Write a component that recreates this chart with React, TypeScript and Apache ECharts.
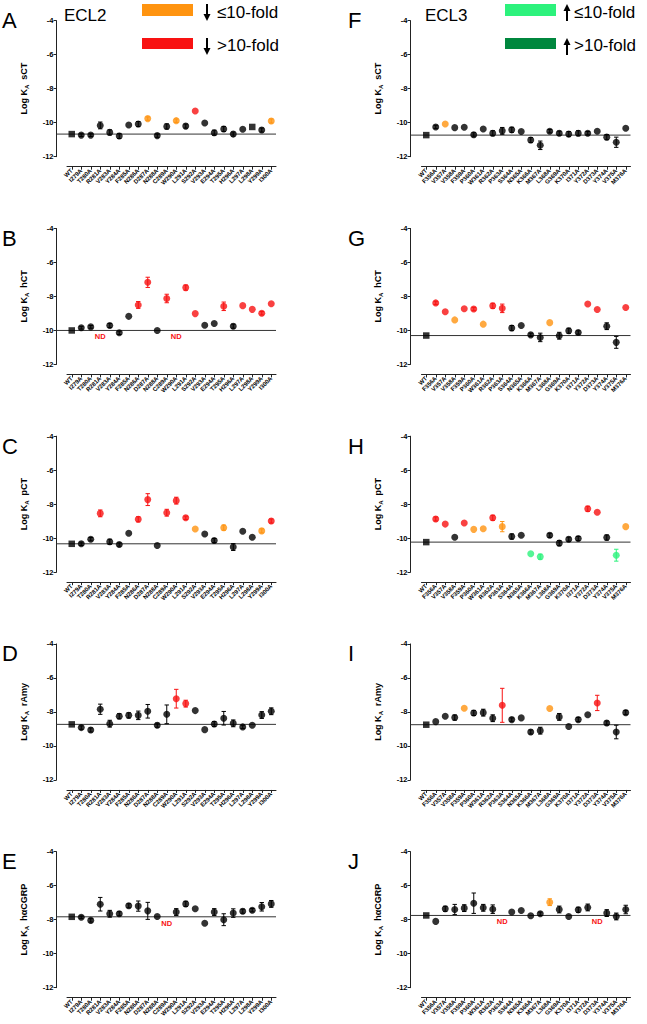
import React, { useEffect, useRef } from "react";
import * as echarts from "echarts";

const ecl2Cats = ["WT","I279A","T280A","R281A","V283A","Y284A","F285A","N286A","D287A","N288A","C289A","W290A","L291A","S292A","V293A","E294A","T295A","H296A","L297A","L298A","Y299A","I300A"];
const ecl3Cats = ["WT","F356A","V357A","V358A","F359A","P360A","W361A","R362A","P363A","S364A","N365A","K366A","M367A","L368A","G369A","K370A","I371A","Y372A","D373A","Y374A","V375A","M376A"];
const yTickMin = -12;
const yTickMax = -4;
const yTickStep = 2;

// ECL2 panels
const aVals = [-10.67,-10.73,-10.73,-10.16,-10.57,-10.78,-10.14,-10.08,-9.76,-10.76,-10.22,-9.88,-10.2,-9.31,-10.02,-10.59,-10.37,-10.67,-10.39,-10.25,-10.43,-9.9];
const aErrs = [0,0.08,0.08,0.2,0.15,0.15,0,0.15,0.1,0.1,0.15,0.1,0.12,0,0,0.15,0.15,0.12,0,0,0.12,0.12];
const aCols = "kkkkkkkkokkokrkkkkkkko";
const bVals = [-10.0,-9.84,-9.79,null,-9.71,-10.14,-9.17,-8.5,-7.17,-10.0,-8.12,null,-7.48,-9.01,-9.69,-9.59,-8.58,-9.75,-8.54,-8.76,-8.99,-8.43];
const bErrs = [0,0.08,0.08,0,0.12,0.1,0,0.2,0.3,0,0.25,0,0.15,0,0,0,0.25,0.12,0,0,0.1,0];
const bCols = "kkkkkkkrrkrkrrkkrkrrrr";
const cVals = [-10.33,-10.33,-10.06,-8.54,-10.21,-10.37,-9.71,-8.89,-7.73,-10.43,-8.5,-7.79,-8.8,-9.46,-9.75,-10.14,-9.38,-10.52,-9.59,-9.94,-9.57,-8.99];
const cErrs = [0,0.1,0.1,0.2,0.15,0.1,0,0.15,0.35,0,0.2,0.2,0.1,0,0,0.12,0.15,0.2,0,0,0.12,0.12];
const cCols = "kkkrkkkrrkrrrokkokkkor";
const dVals = [-8.73,-8.92,-9.06,-7.84,-8.69,-8.25,-8.2,-8.2,-7.96,-8.78,-8.14,-7.22,-7.51,-7.92,-9.04,-8.71,-8.37,-8.67,-8.88,-8.78,-8.18,-7.96];
const dErrs = [0,0.1,0.12,0.3,0.2,0.15,0.15,0.25,0.4,0.12,0.55,0.55,0.2,0,0,0.15,0.4,0.2,0.1,0,0.2,0.2];
const dCols = "kkkkkkkkkkkrrkkkkkkkkk";
const eVals = [-7.83,-7.86,-8.04,-7.09,-7.65,-7.65,-7.18,-7.2,-7.48,-7.81,null,-7.55,-7.07,-7.36,-8.21,-7.55,-8.0,-7.61,-7.5,-7.44,-7.24,-7.07];
const eErrs = [0,0.08,0.1,0.4,0.2,0.12,0.12,0.3,0.5,0,0,0.2,0.15,0,0,0.2,0.35,0.25,0.12,0.1,0.25,0.2];
const eCols = "kkkkkkkkkkkkkkkkkkkkkk";

// ECL3 panels
const fVals = [-10.73,-10.25,-10.08,-10.29,-10.27,-10.71,-10.37,-10.62,-10.48,-10.42,-10.52,-11.02,-11.33,-10.5,-10.62,-10.67,-10.62,-10.62,-10.5,-10.85,-11.15,-10.33];
const fErrs = [0,0.1,0,0,0,0.12,0,0.15,0.2,0.15,0,0.15,0.25,0.1,0.12,0.15,0.15,0.1,0,0.15,0.3,0];
const fCols = "kkokkkkkkkkkkkkkkkkkkk";
const gVals = [-10.3,-8.38,-8.9,-9.38,-8.72,-8.74,-9.63,-8.55,-8.7,-9.86,-9.71,-10.26,-10.41,-9.54,-10.31,-10.02,-10.12,-8.44,-8.77,-9.75,-10.7,-8.65];
const gErrs = [0,0.1,0,0,0,0.1,0,0.15,0.25,0.15,0,0.1,0.25,0,0.2,0.15,0.1,0,0,0.2,0.35,0];
const gCols = "krrorrorrkkkkokkkrrkkr";
const hVals = [-10.23,-8.87,-9.17,-9.94,-9.11,-9.48,-9.44,-8.8,-9.32,-9.9,-9.83,-10.91,-11.09,-9.83,-10.29,-10.06,-10.02,-8.27,-8.47,-9.96,-11.0,-9.32];
const hErrs = [0,0.12,0,0,0,0,0,0.15,0.3,0.15,0,0,0.15,0.12,0.15,0.12,0.12,0.15,0,0.15,0.35,0];
const hCols = "krrkroorokkggkkkkrrkgo";
const iVals = [-8.75,-8.57,-8.25,-8.33,-7.78,-8.06,-8.04,-8.37,-7.61,-8.45,-8.35,-9.18,-9.1,-7.8,-8.29,-8.86,-8.45,-8.16,-7.47,-8.65,-9.18,-8.04];
const iErrs = [0,0,0,0.15,0,0.15,0.2,0.2,1.0,0.1,0,0.12,0.2,0,0.2,0,0.12,0,0.45,0.12,0.4,0.12];
const iCols = "kkkkokkkrkkkkokkkkrkkk";
const jVals = [-7.75,-8.1,-7.36,-7.4,-7.32,-7.03,-7.3,-7.38,null,-7.55,-7.46,-7.77,-7.65,-6.97,-7.4,-7.81,-7.42,-7.28,null,-7.61,-7.81,-7.4];
const jErrs = [0,0,0.15,0.3,0.2,0.6,0.2,0.25,0,0,0,0,0.1,0.2,0.2,0,0.15,0.2,0,0.2,0.2,0.25];
const jCols = "kkkkkkkkkkkkkokkkkkkkk";

const panelLetters = ["A","B","C","D","E","F","G","H","I","J"];
const ligands = ["sCT","hCT","pCT","rAmy","hαCGRP","sCT","hCT","pCT","rAmy","hαCGRP"];

const COLORS: Record<string, string> = { k: "#000000", o: "#FF9410", r: "#F81212", g: "#2CF27C" };
const colorList = ["#000000", "#FF9410", "#F81212", "#2CF27C"];
const colorIdx: Record<string, number> = { k: 0, o: 1, r: 2, g: 3 };
const FONT = "'Liberation Sans', Arial, sans-serif";

type Panel = { cats: string[]; vals: (number | null)[]; errs: number[]; cols: string; squares: number[] };

const panels: Panel[] = [
  { cats: ecl2Cats, vals: aVals, errs: aErrs, cols: aCols, squares: [0, 19] },
  { cats: ecl2Cats, vals: bVals, errs: bErrs, cols: bCols, squares: [0] },
  { cats: ecl2Cats, vals: cVals, errs: cErrs, cols: cCols, squares: [0] },
  { cats: ecl2Cats, vals: dVals, errs: dErrs, cols: dCols, squares: [0] },
  { cats: ecl2Cats, vals: eVals, errs: eErrs, cols: eCols, squares: [0] },
  { cats: ecl3Cats, vals: fVals, errs: fErrs, cols: fCols, squares: [0] },
  { cats: ecl3Cats, vals: gVals, errs: gErrs, cols: gCols, squares: [0] },
  { cats: ecl3Cats, vals: hVals, errs: hErrs, cols: hCols, squares: [0] },
  { cats: ecl3Cats, vals: iVals, errs: iErrs, cols: iCols, squares: [0] },
  { cats: ecl3Cats, vals: jVals, errs: jErrs, cols: jCols, squares: [0] },
];

// layout
const ROW0 = 20.7;
const ROW_PITCH = 207.75;
const PLOT_H = 136;
const AXIS_X = [56.5, 410.5];
const GRID_L = [67, 421.5];
const GRID_W = 209;

function buildOption() {
  const grid: any[] = [];
  const xAxis: any[] = [];
  const yAxis: any[] = [];
  const series: any[] = [];
  const graphic: any[] = [];

  panels.forEach((p, idx) => {
    const col = idx < 5 ? 0 : 1;
    const row = idx % 5;
    const top = ROW0 + ROW_PITCH * row;
    const ax = AXIS_X[col];
    const gl = GRID_L[col];
    const g1 = grid.length;
    const g2 = g1 + 1;
    const wt = p.vals[0] as number;

    grid.push({ left: ax, top, width: gl + GRID_W - ax, height: PLOT_H, containLabel: false, outerBoundsMode: "none" });
    grid.push({ left: gl, top, width: GRID_W, height: PLOT_H, containLabel: false, outerBoundsMode: "none" });

    xAxis.push({ gridIndex: g1, type: "value", min: 0, max: 1, show: false });
    yAxis.push({
      gridIndex: g1,
      type: "value",
      min: yTickMin,
      max: yTickMax,
      interval: yTickStep,
      name: `{a|Log K}{s|A}{a|  ${ligands[idx]}}`,
      nameLocation: "middle",
      nameGap: 27,
      nameRotate: 90,
      nameTextStyle: {
        rich: {
          a: { fontFamily: FONT, fontSize: 9, fontWeight: "bold", color: "#000", lineHeight: 12, verticalAlign: "middle" },
          s: { fontFamily: FONT, fontSize: 6, fontWeight: "bold", color: "#000", lineHeight: 12, verticalAlign: "bottom", padding: [4, 0, 0, 0] },
        },
      },
      axisLine: { show: true, lineStyle: { color: "#222", width: 1 } },
      axisTick: { show: true, length: 3, lineStyle: { color: "#222", width: 1 } },
      axisLabel: { fontFamily: FONT, fontSize: 7.5, fontWeight: "bold", color: "#000", margin: 3 },
      splitLine: { show: false },
    });

    xAxis.push({
      gridIndex: g2,
      type: "category",
      data: p.cats,
      offset: 10,
      axisLine: { show: true, lineStyle: { color: "#222", width: 1 } },
      axisTick: { show: true, alignWithLabel: true, length: 3, lineStyle: { color: "#222", width: 1 } },
      axisLabel: { interval: 0, rotate: 45, fontFamily: FONT, fontSize: 6, fontWeight: "bold", color: "#000", margin: 3 },
      splitLine: { show: false },
    });
    yAxis.push({ gridIndex: g2, type: "value", min: yTickMin, max: yTickMax, show: false });

    // WT reference line
    series.push({
      type: "line",
      xAxisIndex: g1,
      yAxisIndex: g1,
      data: [[0, wt], [1, wt]],
      symbol: "none",
      silent: true,
      lineStyle: { color: "#333", width: 1 },
      z: 1,
    });

    // error bars
    const errData: any[] = [];
    p.vals.forEach((v, i) => {
      const e = p.errs[i];
      if (v !== null && e > 0) errData.push([i, v - e, v + e, colorIdx[p.cols[i]]]);
    });
    series.push({
      type: "custom",
      xAxisIndex: g2,
      yAxisIndex: g2,
      silent: true,
      z: 2,
      data: errData,
      renderItem: (params: any, api: any) => {
        const x = api.value(0);
        const lo = api.value(1);
        const hi = api.value(2);
        const c = colorList[api.value(3)] || "#000";
        const pHi = api.coord([x, hi]);
        const pLo = api.coord([x, lo]);
        const cw = 2.2;
        const st = { stroke: c, lineWidth: 1 };
        return {
          type: "group",
          children: [
            { type: "line", shape: { x1: pHi[0], y1: pHi[1], x2: pLo[0], y2: pLo[1] }, style: st },
            { type: "line", shape: { x1: pHi[0] - cw, y1: pHi[1], x2: pHi[0] + cw, y2: pHi[1] }, style: st },
            { type: "line", shape: { x1: pLo[0] - cw, y1: pLo[1], x2: pLo[0] + cw, y2: pLo[1] }, style: st },
          ],
        };
      },
    });

    // points
    const pts: any[] = [];
    const nd: any[] = [];
    p.vals.forEach((v, i) => {
      if (v === null) {
        nd.push({ value: [i, wt] });
        return;
      }
      const sq = p.squares.includes(i);
      pts.push({
        value: [i, v],
        symbol: sq ? "rect" : "circle",
        symbolSize: sq ? 6.5 : 7,
        itemStyle: { color: COLORS[p.cols[i]] },
      });
    });
    series.push({
      type: "scatter",
      xAxisIndex: g2,
      yAxisIndex: g2,
      silent: true,
      z: 3,
      data: pts,
    });
    if (nd.length) {
      series.push({
        type: "scatter",
        xAxisIndex: g2,
        yAxisIndex: g2,
        silent: true,
        z: 4,
        symbol: "circle",
        symbolSize: 1,
        itemStyle: { color: "rgba(0,0,0,0)" },
        data: nd,
        label: {
          show: true,
          position: "bottom",
          distance: 2,
          formatter: "ND",
          fontFamily: FONT,
          fontSize: 7.5,
          fontWeight: "bold",
          color: "#F81212",
          opacity: 1,
        },
      });
    }

    // panel letter
    graphic.push({
      type: "text",
      left: col === 0 ? 2 : 348,
      top: row === 0 ? 9 : top - 1,
      style: { text: panelLetters[idx], font: `22px ${FONT}`, fill: "#000" },
    });
  });

  // headings and legend
  const legendText = (x: number, y: number, t: string) => ({
    type: "text",
    x,
    y,
    style: { text: t, font: `17px ${FONT}`, fill: "#000", textVerticalAlign: "middle", verticalAlign: "middle" },
  });
  graphic.push(legendText(64, 15, "ECL2"));
  graphic.push(legendText(425, 15, "ECL3"));
  graphic.push({ type: "rect", shape: { x: 142, y: 4, width: 51, height: 12 }, style: { fill: "#FF9410" } });
  graphic.push({ type: "rect", shape: { x: 142, y: 38, width: 51, height: 11 }, style: { fill: "#F81212" } });
  graphic.push({ type: "rect", shape: { x: 505, y: 4, width: 51, height: 12 }, style: { fill: "#2CF27C" } });
  graphic.push({ type: "rect", shape: { x: 505, y: 38, width: 51, height: 11 }, style: { fill: "#00873E" } });
  // down arrows
  [4, 38].forEach((y0) => {
    graphic.push({ type: "line", shape: { x1: 207, y1: y0, x2: 207, y2: y0 + 11 }, style: { stroke: "#000", lineWidth: 2 } });
    graphic.push({ type: "polygon", shape: { points: [[203.5, y0 + 10], [210.5, y0 + 10], [207, y0 + 17]] }, style: { fill: "#000" } });
  });
  // up arrows
  [4, 38].forEach((y0) => {
    graphic.push({ type: "polygon", shape: { points: [[563.5, y0 + 7], [570.5, y0 + 7], [567, y0]] }, style: { fill: "#000" } });
    graphic.push({ type: "line", shape: { x1: 567, y1: y0 + 6, x2: 567, y2: y0 + 17 }, style: { stroke: "#000", lineWidth: 2 } });
  });
  graphic.push(legendText(217, 12.5, "≤10-fold"));
  graphic.push(legendText(217, 45, ">10-fold"));
  graphic.push(legendText(574, 12.5, "≤10-fold"));
  graphic.push(legendText(574, 45, ">10-fold"));

  return { animation: false, grid, xAxis, yAxis, series, graphic };
}

export default function App() {
  const ref = useRef<HTMLDivElement>(null);
  useEffect(() => {
    if (!ref.current) return;
    const chart = echarts.init(ref.current, undefined, { renderer: "svg" });
    chart.setOption(buildOption() as any);
    return () => chart.dispose();
  }, []);
  return (
    <div
      ref={ref}
      style={{ position: "absolute", left: 0, top: 0, width: 647, height: 1024, background: "#fff" }}
    />
  );
}
